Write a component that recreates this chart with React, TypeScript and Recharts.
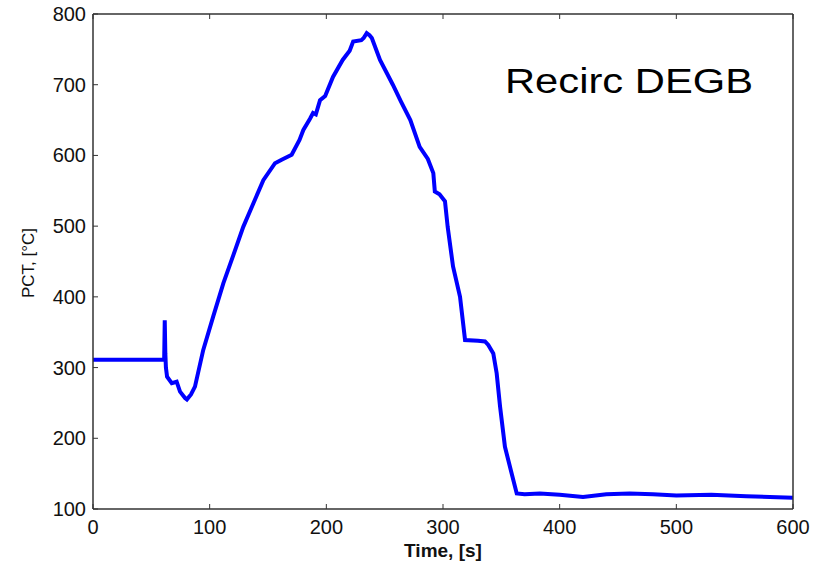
import { LineChart, Line, XAxis, YAxis } from 'recharts';

// PCT trace (time in s, temperature in °C)
const times = [
  0, 20, 40, 60, 61, 61.5, 62, 62.5, 63.5, 67.5, 71.7, 74.6, 78.9, 80.5, 84, 87.4, 94.5, 103, 111.7, 120.3,
  128.8, 137.4, 146, 156, 161.7, 170.3, 177, 180.3, 186, 188.6, 191, 194.6, 199, 205.7, 214, 220, 223, 230,
  232, 234.6, 237, 239, 246, 257, 264, 272, 280, 287, 291.7, 293, 297, 301.7, 304, 308.6, 314.6, 318.9, 330,
  336, 338.8, 343.1, 346, 348.9, 353.1, 358.9, 363.2, 370, 383, 400, 420, 440, 460, 480, 500, 530, 560, 600,
];
const pct = [
  311, 311, 311, 311, 311, 367, 320, 300, 287, 278, 280, 266, 257, 255, 262, 273, 325, 372, 419, 459,
  499, 532, 565, 589, 594, 601, 622, 636, 652, 660, 658, 678, 684, 711, 735, 748, 761, 763,
  766, 773, 770, 766, 735, 700, 676, 650, 612, 595, 575, 549, 545, 535, 499, 443, 400, 339, 338,
  337, 332, 320, 292, 245, 188, 150, 122, 121, 122, 120, 117, 121, 122, 121, 119, 120, 118, 116,
];
const xTicks = [0, 100, 200, 300, 400, 500, 600];
const yTicks = [100, 200, 300, 400, 500, 600, 700, 800];

const data = times.map((t, i) => ({ t, v: pct[i] }));

const font = '"Liberation Sans", Arial, sans-serif';
const frame = { stroke: '#333', strokeWidth: 1.5 };

function BottomTick({ x, y, payload }: any) {
  return (
    <g>
      <line x1={x} y1={y} x2={x} y2={y - 5} stroke="#333" />
      <text x={x} y={y + 24.5} textAnchor="middle" fontSize={20} fontFamily={font} fill="#111">
        {payload.value}
      </text>
    </g>
  );
}

function TopTick({ x, y }: any) {
  return <line x1={x} y1={y} x2={x} y2={y + 5} stroke="#333" />;
}

function LeftTick({ x, y, payload }: any) {
  return (
    <g>
      <line x1={x} y1={y} x2={x + 5} y2={y} stroke="#333" />
      <text x={x - 7} y={y + 7} textAnchor="end" fontSize={20} fontFamily={font} fill="#111">
        {payload.value}
      </text>
    </g>
  );
}

function RightTick({ x, y }: any) {
  return <line x1={x} y1={y} x2={x - 5} y2={y} stroke="#333" />;
}

export default function App() {
  return (
    <div style={{ position: 'absolute', left: 0, top: 0, width: 822, height: 564, overflow: 'hidden' }}>
      <LineChart width={822} height={564} data={data} margin={{ top: 13, right: 28, bottom: 0, left: 0 }}>
        <XAxis
          dataKey="t"
          type="number"
          domain={[0, 600]}
          ticks={xTicks}
          height={55}
          tickSize={0}
          tickMargin={0}
          axisLine={frame}
          tick={<BottomTick />}
          label={{
            content: (p: any) => (
              <text
                x={p.viewBox.x + p.viewBox.width / 2}
                y={556.5}
                textAnchor="middle"
                fontSize={19}
                fontWeight="bold"
                fontFamily={font}
                fill="#111"
              >
                Time, [s]
              </text>
            ),
          }}
        />
        <XAxis
          xAxisId="top"
          orientation="top"
          dataKey="t"
          type="number"
          domain={[0, 600]}
          ticks={xTicks}
          height={1}
          tickSize={0}
          tickMargin={0}
          axisLine={frame}
          tick={<TopTick />}
        />
        <YAxis
          type="number"
          domain={[100, 800]}
          ticks={yTicks}
          width={93}
          tickSize={0}
          tickMargin={0}
          axisLine={frame}
          tick={<LeftTick />}
          label={{
            content: () => (
              <text
                x={28}
                y={263}
                transform="rotate(-90 28 263)"
                textAnchor="middle"
                dominantBaseline="central"
                fontSize={17}
                fontFamily={font}
                fill="#111"
              >
                PCT, [°C]
              </text>
            ),
          }}
        />
        <YAxis
          yAxisId="right"
          orientation="right"
          type="number"
          domain={[100, 800]}
          ticks={yTicks}
          width={1}
          tickSize={0}
          tickMargin={0}
          axisLine={frame}
          tick={<RightTick />}
        />
        <Line
          dataKey="v"
          type="linear"
          stroke="#0000ff"
          strokeWidth={4}
          dot={false}
          isAnimationActive={false}
        />
      </LineChart>
      <svg width={822} height={564} style={{ position: 'absolute', left: 0, top: 0, pointerEvents: 'none' }}>
        <text
          x={505}
          y={93}
          fontSize={35}
          fontFamily={font}
          fill="#000"
          textLength={248}
          lengthAdjust="spacingAndGlyphs"
        >
          Recirc DEGB
        </text>
      </svg>
    </div>
  );
}
